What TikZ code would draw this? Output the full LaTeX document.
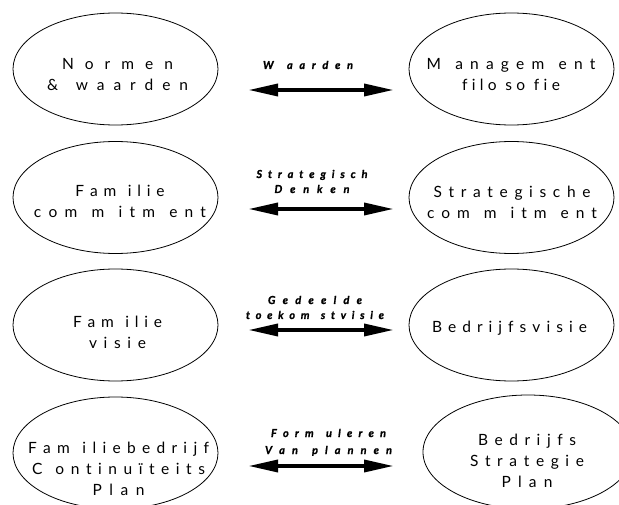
\documentclass[tikz,border=0pt]{standalone}
\usepackage{fontspec}
\setmainfont{Lato}
\newfontfamily\tagfont[FakeBold=1.2]{Lato}
\usetikzlibrary{shapes.geometric,arrows.meta}

% \spreadline{width}{letters}: sets the letters in a box of the given width (pt),
% with equal stretchable gaps between consecutive tokens; \gapmark is an empty
% token, so it doubles the gap where it stands
\makeatletter
\def\sp@stop{\sp@stop}
\def\gapmark{}
\def\sp@first#1{\ifx#1\sp@stop\else#1\expandafter\sp@next\fi}
\def\sp@next#1{\ifx#1\sp@stop\else\hfill#1\expandafter\sp@next\fi}
\newcommand\spreadline[2]{\hbox to #1pt{\sp@first#2\sp@stop}}
\makeatother

\begin{document}
\begin{tikzpicture}[x=1pt,y=-1pt,
  oval/.style={draw,ellipse,line width=0.8pt,minimum width=205pt,minimum height=112pt,inner sep=0pt},
  words/.style={anchor=base,inner sep=0pt,font=\fontsize{15.5}{21}\selectfont},
  tag/.style={anchor=base,inner sep=0pt,font=\tagfont\fontsize{11}{16}\selectfont\bfseries\itshape},
  link/.style={line width=4.8pt,{Triangle[length=31pt,width=11.5pt]}-{Triangle[length=31pt,width=11.5pt]}}]

\fill[white] (0,0) rectangle (619,505);
\useasboundingbox (0,0) rectangle (619,505);

% ellipses, left column (family side) and right column (business side)
\node[oval] (normen)   at (115.5,69)  {};
\node[oval] (filo)     at (511.5,69)  {};
\node[oval] (famcom)   at (115.5,197.5) {};
\node[oval] (stratcom) at (511.5,197.5) {};
\node[oval] (famvis)   at (115.5,325) {};
\node[oval] (bedvis)   at (511.5,325) {};
\node[oval] (fbcp)     at (115.5,453) {};
\node[oval,minimum width=210pt,minimum height=114pt] (bsp) at (528,452) {};

% ellipse texts
\node[words] (normentxt) at (117.5,70) {\begin{tabular}[t]{@{}c@{}}\spreadline{111}{Normen}\\\spreadline{141}{\&\gapmark waarden}\end{tabular}};
\node[words] (filotxt) at (511,70) {\begin{tabular}[t]{@{}c@{}}\spreadline{169}{M\gapmark anagem\gapmark ent}\\\spreadline{98}{filo\gapmark so\gapmark fie}\end{tabular}};
\node[words] (famcomtxt) at (120,197) {\begin{tabular}[t]{@{}c@{}}\spreadline{89}{Fam\gapmark ilie}\\\spreadline{172}{com\gapmark m\gapmark itm\gapmark ent}\end{tabular}};
\node[words] (stratcomtxt) at (512,198) {\begin{tabular}[t]{@{}c@{}}\spreadline{157}{Strategische}\\\spreadline{170}{com\gapmark m\gapmark itm\gapmark ent}\end{tabular}};
\node[words] (famvistxt) at (117.5,327) {\begin{tabular}[t]{@{}c@{}}\spreadline{89}{Fam\gapmark ilie}\\\spreadline{57}{visie}\end{tabular}};
\node[words] (bedvistxt) at (509.5,333) {\spreadline{155}{Bedrijfsvisie}};
\node[words] (fbcptxt) at (118.5,453) {\begin{tabular}[t]{@{}c@{}}\spreadline{181}{Fam\gapmark iliebedrijf}\\\spreadline{173}{C\gapmark ontinuïteits}\\\spreadline{52}{Plan}\end{tabular}};
\node[words] (bsptxt) at (527,445) {\begin{tabular}[t]{@{}c@{}}\spreadline{98}{Bedrijfs}\\\spreadline{114}{Strategie}\\\spreadline{51}{Plan}\end{tabular}};

% arrow labels
\node[tag] (l1) at (308,69) {\spreadline{90}{W\gapmark aarden}};
\node[tag] (l2) at (312,178) {\begin{tabular}[t]{@{}c@{}}\spreadline{111}{Strategisch}\\[-1pt]\spreadline{75}{Denken}\end{tabular}};
\node[tag] (l3) at (315,304) {\begin{tabular}[t]{@{}c@{}}\spreadline{94}{Gedeelde}\\[-1pt]\spreadline{138}{toekom\gapmark stvisie}\end{tabular}};
\node[tag] (l4) at (328.5,437) {\begin{tabular}[t]{@{}c@{}}\spreadline{115}{Form\gapmark uleren}\\[1pt]\spreadline{127}{Van\gapmark plannen}\end{tabular}};

% double-headed arrows
\coordinate (w1) at (247,90);  \coordinate (e1) at (395,90);
\coordinate (w2) at (247,209); \coordinate (e2) at (395,209);
\coordinate (w3) at (247,330); \coordinate (e3) at (395,330);
\coordinate (w4) at (247,466); \coordinate (e4) at (395,466);
\draw[link] (w1) -- (e1);
\draw[link] (w2) -- (e2);
\draw[link] (w3) -- (e3);
\draw[link] (w4) -- (e4);
\end{tikzpicture}
\end{document}
